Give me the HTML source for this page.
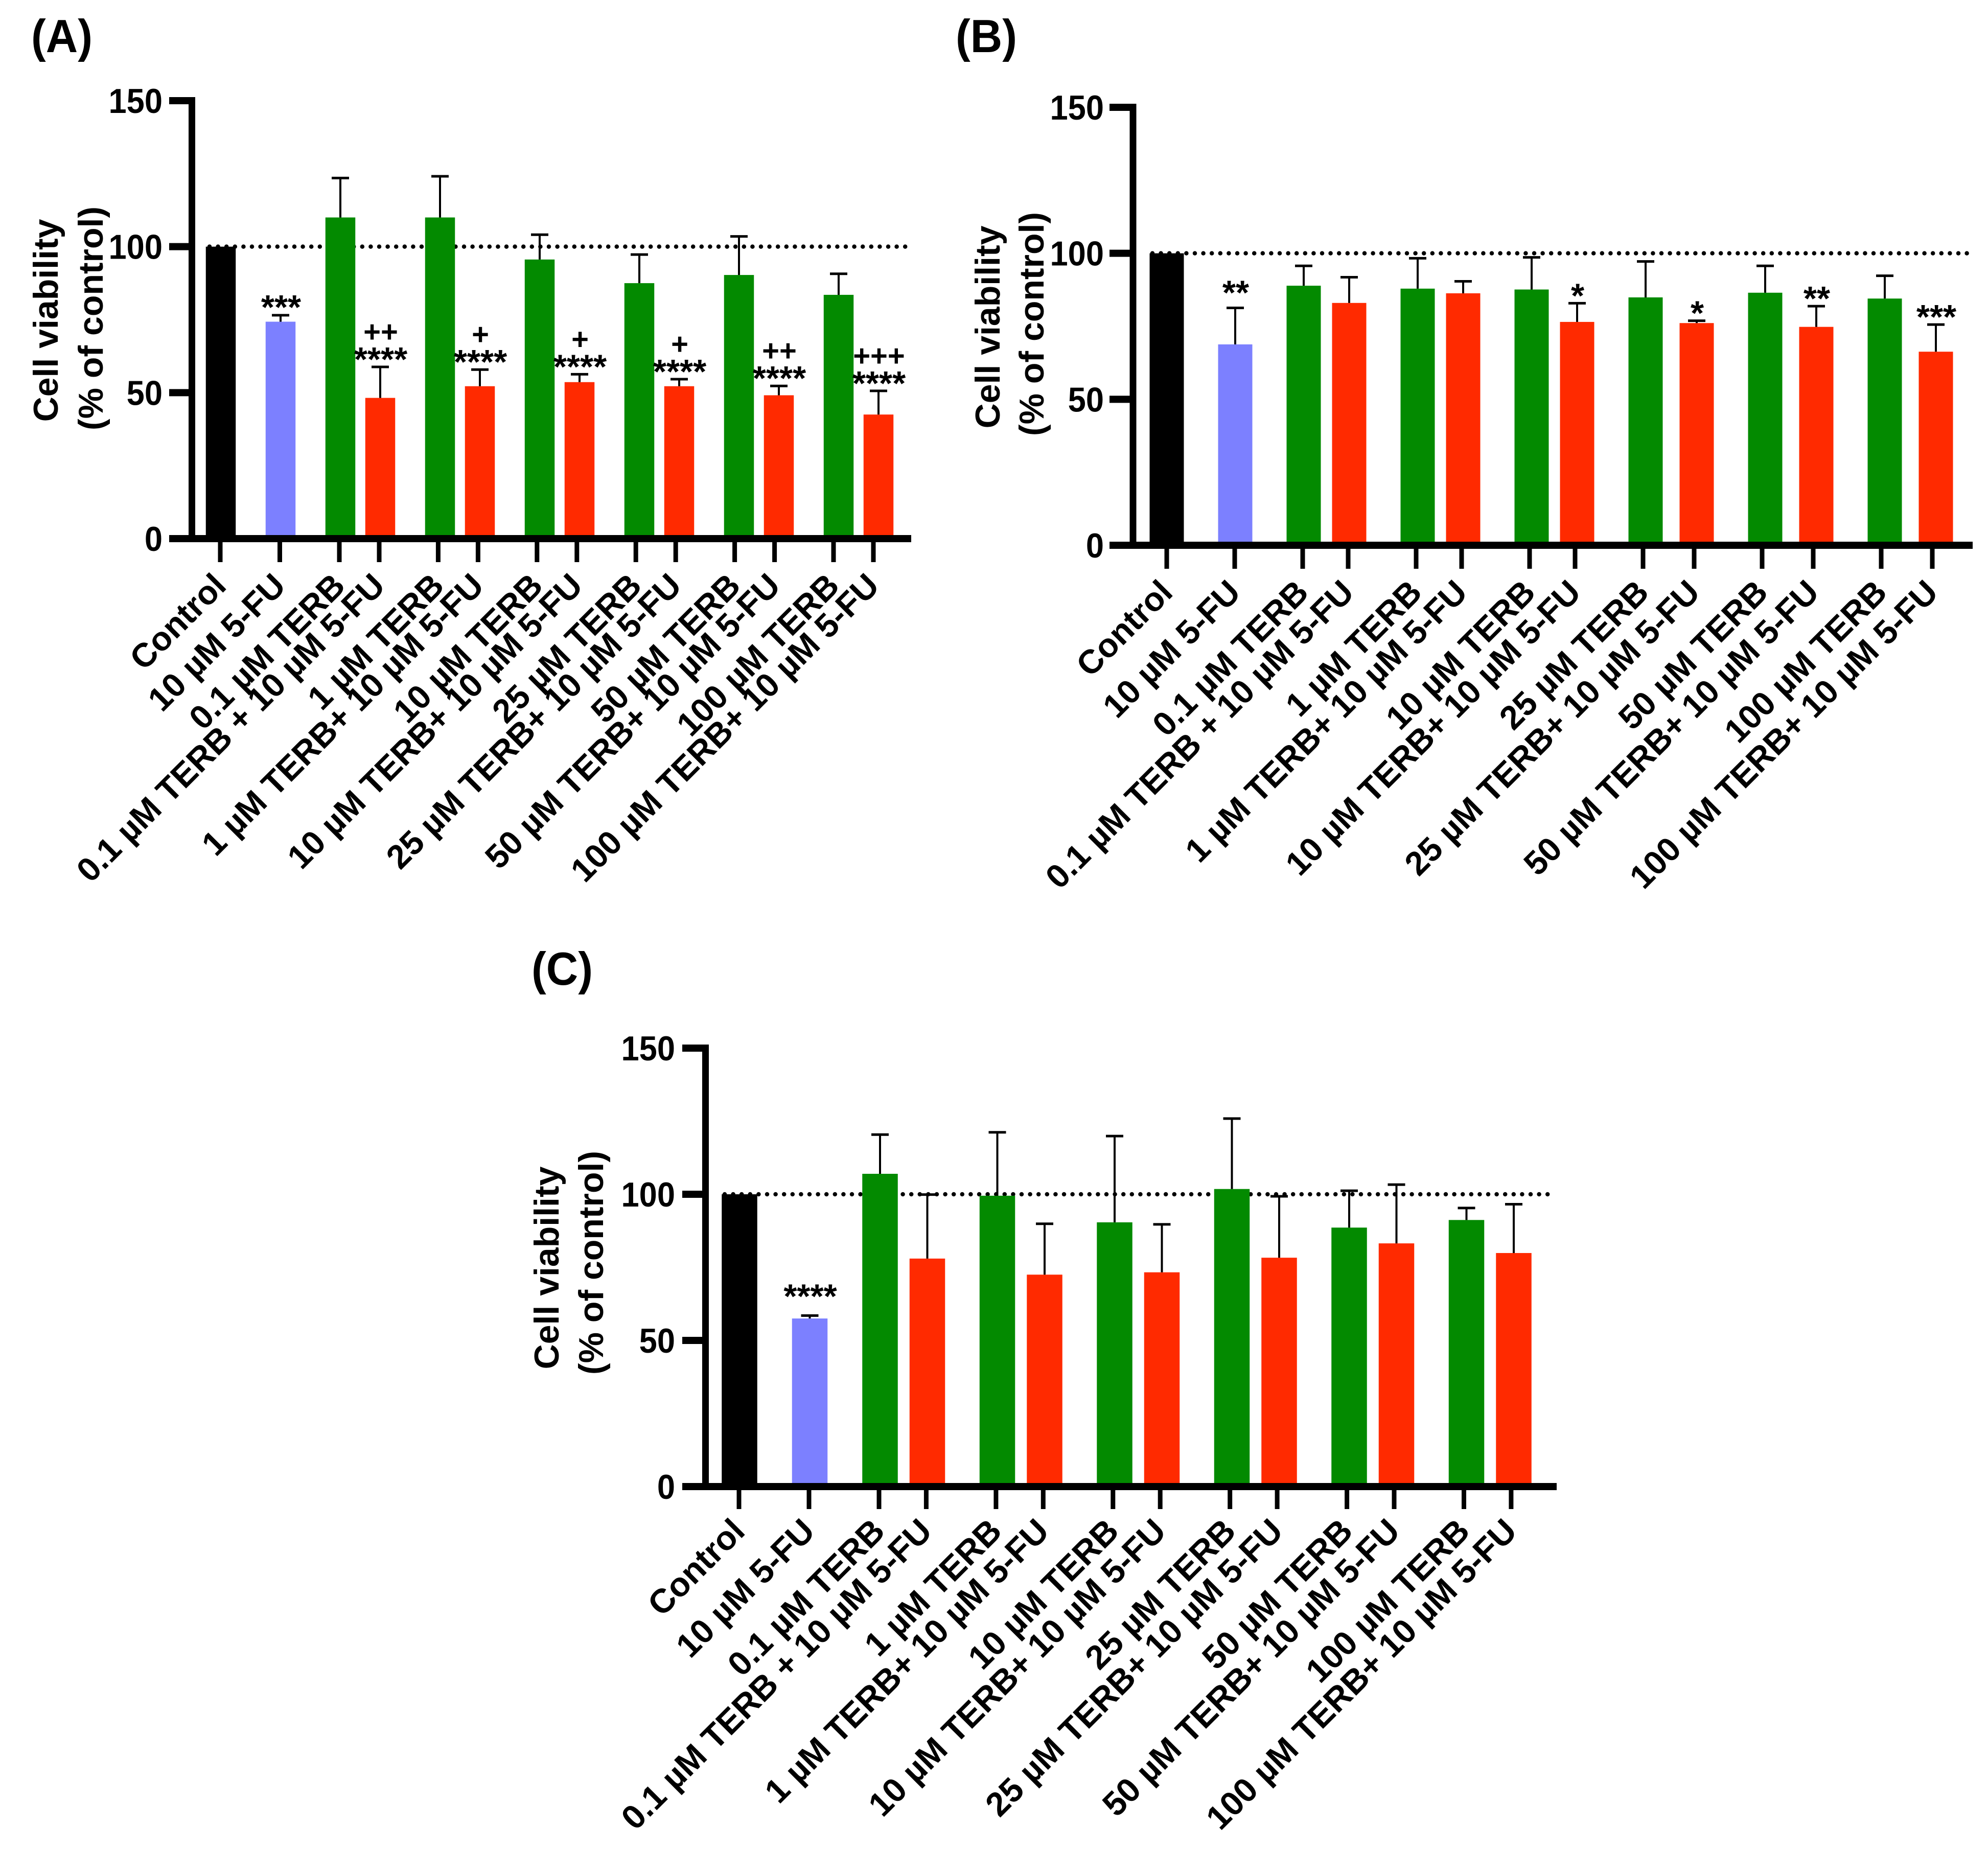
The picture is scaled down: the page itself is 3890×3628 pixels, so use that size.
<!DOCTYPE html>
<html lang="en">
<head>
<meta charset="utf-8">
<title>Cell viability panels</title>
<style>
html,body{margin:0;padding:0;background:#fff;}
svg{display:block;}
text{font-family:"Liberation Sans",Arial,sans-serif;fill:#000;}
</style>
</head>
<body>
<svg id="figure" xmlns="http://www.w3.org/2000/svg" width="3890" height="3628" viewBox="0 0 3890 3628"></svg>
<script>
const categories = ["Control","10 µM 5-FU","0.1 µM TERB","0.1 µM TERB + 10 µM 5-FU","1 µM TERB","1 µM TERB+ 10 µM 5-FU","10 µM TERB","10 µM TERB+ 10 µM 5-FU","25 µM TERB","25 µM TERB+ 10 µM 5-FU","50 µM TERB","50 µM TERB+ 10 µM 5-FU","100 µM TERB","100 µM TERB+ 10 µM 5-FU"];
const yTickLabels = [0,50,100,150];
const referenceValue = 100;
const yAxisMax = 150;

const panelAValues = [100,74.3,110,48.2,110,52.2,95.6,53.6,87.5,52.2,90.3,49.1,83.5,42.5];
const panelAErrorTops = [100,76.5,123.5,58.8,124.1,57.9,104.1,56.3,97.3,54.6,103.5,52.3,90.7,50.6];
const panelAStars = ["","***","","****","","****","","****","","****","","****","","****"];
const panelAPlus = ["","","","++","","+","","+","","+","","++","","+++"];

const panelBValues = [100,68.8,88.9,83,87.9,86.3,87.6,76.5,84.9,76.1,86.5,74.8,84.5,66.3];
const panelBErrorTops = [100,81.3,95.7,91.8,98.3,90.4,98.6,82.9,97.2,76.9,95.7,81.9,92.3,75.6];
const panelBStars = ["","**","","","","","","*","","*","","**","","***"];
const panelBPlus = ["","","","","","","","","","","","","",""];

const panelCValues = [100,57.5,107,78,99.5,72.5,90.4,73.3,101.8,78.3,88.6,83.2,91.2,79.9];
const panelCErrorTops = [100,58.5,120.4,99.9,121.2,89.9,119.9,89.7,125.9,99.3,101.2,103.3,95.3,96.6];
const panelCStars = ["","****","","","","","","","","","","","",""];
const panelCPlus = ["","","","","","","","","","","","","",""];

const NS = "http://www.w3.org/2000/svg";
const figure = document.getElementById("figure");
const colorFor = function (i) {
  if (i === 0) return "#000000";
  if (i === 1) return "#7C80FF";
  return i % 2 === 0 ? "#038A00" : "#FF2A00";
};

function make(parent, tag, attrs, content) {
  const el = document.createElementNS(NS, tag);
  for (const k in attrs) el.setAttribute(k, attrs[k]);
  if (content !== undefined) el.textContent = content;
  parent.appendChild(el);
  return el;
}

function slotScale(cfg) {
  return function (i) {
    if (i < 2) return cfg.x0 + i * cfg.head;
    const start = cfg.x0 + 2 * cfg.head;
    const pair = Math.floor((i - 2) / 2);
    let x = start;
    for (let g = 0; g < pair; g++) {
      x += (g >= cfg.lateFrom ? cfg.lateGap : cfg.gap) + cfg.sep;
    }
    if ((i - 2) % 2 === 1) x += pair >= cfg.lateFrom ? cfg.lateGap : cfg.gap;
    return x;
  };
}

function drawPanel(p) {
  const g = make(figure, "g", {});
  
  

  const yScale = function (v) { return p.y0 + (p.yTop - p.y0) * v / yAxisMax; };
  const tickX = slotScale(p.tickLayout);
  const barX = slotScale(p.barLayout);

  const letter = make(g, "text", {"font-size": 91, "font-weight": "bold", transform: "translate(" + p.letterX + " " + p.letterY + ") scale(0.95 1)"}, "(" + p.id + ")");
  
  

  const refLine = make(g, "line", {x1: p.refStart, x2: p.axisEnd - 8, y1: yScale(referenceValue), y2: yScale(referenceValue), stroke: "#000", "stroke-width": 8.5, "stroke-linecap": "round", "stroke-dasharray": "0 16.6"});
  
  

  p.values.forEach(function (v, i) {
    const cx = barX(i);
    const bar = make(g, "rect", {x: cx - p.barWidth / 2, y: yScale(v), width: p.barWidth, height: p.y0 - yScale(v), fill: colorFor(i)});
    
    

    const top = p.errors[i];
    if (top > v) {
      const stem = make(g, "line", {x1: cx, x2: cx, y1: yScale(v), y2: yScale(top), stroke: "#000", "stroke-width": 4});
      
      
      const cap = make(g, "line", {x1: cx - 17, x2: cx + 17, y1: yScale(top), y2: yScale(top), stroke: "#000", "stroke-width": 5});
      
      
    }

    const lift = i === 1 ? p.lilacLift : 25;
    const starY = yScale(top) - lift;
    if (p.stars[i]) {
      const star = make(g, "text", {x: cx + 1, y: starY + 33, "font-size": 67, "font-weight": "bold", "text-anchor": "middle"}, p.stars[i]);
      
      
    }
    if (p.plus[i]) {
      const plus = make(g, "text", {x: cx + 1, y: starY - 40 + 16, "font-size": 58, "font-weight": "bold", "text-anchor": "middle"}, p.plus[i]);
      
      
    }
  });

  const xAxis = make(g, "line", {x1: p.axisStart, x2: p.axisEnd, y1: p.y0, y2: p.y0, stroke: "#000", "stroke-width": 14});
  
  
  const yAxis = make(g, "line", {x1: p.axisX, x2: p.axisX, y1: yScale(yAxisMax) - 7, y2: p.y0 + 6, stroke: "#000", "stroke-width": 13});
  
  

  yTickLabels.forEach(function (t) {
    const mark = make(g, "line", {x1: p.axisStart, x2: p.axisX, y1: yScale(t), y2: yScale(t), stroke: "#000", "stroke-width": 14});
    
    
    const label = make(g, "text", {"font-size": 68, "font-weight": "bold", "text-anchor": "end", transform: "translate(" + p.yLabelRight + " " + (yScale(t) + 24) + ") scale(0.93 1)"}, String(t));
    
    
  });

  categories.forEach(function (name, i) {
    const x = tickX(i);
    const tick = make(g, "line", {x1: x, x2: x, y1: p.y0, y2: p.tickEnd, stroke: "#000", "stroke-width": 9});
    
    
    const lx = x + 15;
    const ly = p.labelY;
    const label = make(g, "text", {x: lx, y: ly, "font-size": p.labelSize, "font-weight": "bold", "text-anchor": "end", transform: "rotate(-45 " + lx + " " + ly + ")"}, name);
    
    
  });

  const t1x = p.titleX1, t2x = p.titleX2;
  const title1 = make(g, "text", {x: t1x, y: p.titleY1, "font-size": 68, "font-weight": "bold", "text-anchor": "middle", transform: "rotate(-90 " + t1x + " " + p.titleY1 + ")"}, "Cell viability");
  
  
  const title2 = make(g, "text", {x: t2x, y: p.titleY2, "font-size": 68, "font-weight": "bold", "text-anchor": "middle", transform: "rotate(-90 " + t2x + " " + p.titleY2 + ")"}, "(% of control)");
  
  
}

drawPanel({
  id: "A", values: panelAValues, errors: panelAErrorTops, stars: panelAStars, plus: panelAPlus,
  y0: 1054, yTop: 197, axisX: 375.5, axisStart: 331, axisEnd: 1783, refStart: 410,
  barWidth: 58.5, tickEnd: 1100, labelY: 1150, labelSize: 65.5, yLabelRight: 318, lilacLift: 26,
  tickLayout: {x0: 431, head: 116.5, sep: 115.4, gap: 78, lateGap: 78, lateFrom: 99},
  barLayout: {x0: 432, head: 117, sep: 117, gap: 78, lateGap: 78, lateFrom: 99},
  letterX: 61, letterY: 102, titleX1: 113, titleX2: 201, titleY1: 627, titleY2: 623
});
drawPanel({
  id: "B", values: panelBValues, errors: panelBErrorTops, stars: panelBStars, plus: panelBPlus,
  y0: 1067, yTop: 210, axisX: 2217, axisStart: 2171, axisEnd: 3860, refStart: 2255,
  barWidth: 67, tickEnd: 1113, labelY: 1163, labelSize: 65.5, yLabelRight: 2160, lilacLift: 40,
  tickLayout: {x0: 2283, head: 133, sep: 133, gap: 89, lateGap: 100, lateFrom: 3},
  barLayout: {x0: 2283, head: 134, sep: 134, gap: 89, lateGap: 100, lateFrom: 3},
  letterX: 1870, letterY: 102, titleX1: 1956, titleX2: 2042, titleY1: 640, titleY2: 634
});
drawPanel({
  id: "C", values: panelCValues, errors: panelCErrorTops, stars: panelCStars, plus: panelCPlus,
  y0: 2909, yTop: 2051, axisX: 1380.5, axisStart: 1335, axisEnd: 3046, refStart: 1418,
  barWidth: 69.5, tickEnd: 2953, labelY: 3000, labelSize: 66, yLabelRight: 1321, lilacLift: 48,
  tickLayout: {x0: 1446, head: 137, sep: 136.5, gap: 92.4, lateGap: 92.4, lateFrom: 99},
  barLayout: {x0: 1447, head: 137.5, sep: 137, gap: 92.5, lateGap: 92.5, lateFrom: 99},
  letterX: 1040, letterY: 1927, titleX1: 1093, titleX2: 1180, titleY1: 2481, titleY2: 2471
});
</script>
</body>
</html>
